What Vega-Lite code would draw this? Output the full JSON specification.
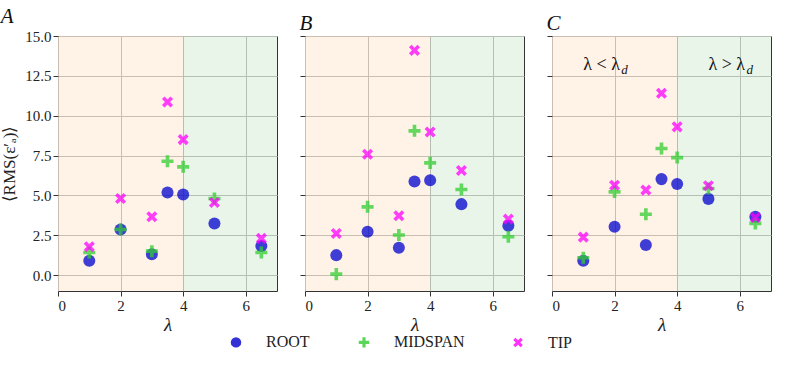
{
  "$schema": "https://vega.github.io/schema/vega-lite/v6.json",
  "padding": {"left": 0, "top": 5, "right": 5, "bottom": 5},
  "background": "white",
  "datasets": {
    "pts": [
      {"panel": "A", "lambda": 1, "location": "ROOT", "rms": 0.90},
      {"panel": "A", "lambda": 2, "location": "ROOT", "rms": 2.86},
      {"panel": "A", "lambda": 3, "location": "ROOT", "rms": 1.30},
      {"panel": "A", "lambda": 3.5, "location": "ROOT", "rms": 5.18},
      {"panel": "A", "lambda": 4, "location": "ROOT", "rms": 5.06},
      {"panel": "A", "lambda": 5, "location": "ROOT", "rms": 3.24},
      {"panel": "A", "lambda": 6.5, "location": "ROOT", "rms": 1.82},
      {"panel": "A", "lambda": 1, "location": "MIDSPAN", "rms": 1.42},
      {"panel": "A", "lambda": 2, "location": "MIDSPAN", "rms": 2.86},
      {"panel": "A", "lambda": 3, "location": "MIDSPAN", "rms": 1.50},
      {"panel": "A", "lambda": 3.5, "location": "MIDSPAN", "rms": 7.14},
      {"panel": "A", "lambda": 4, "location": "MIDSPAN", "rms": 6.79},
      {"panel": "A", "lambda": 5, "location": "MIDSPAN", "rms": 4.80},
      {"panel": "A", "lambda": 6.5, "location": "MIDSPAN", "rms": 1.42},
      {"panel": "A", "lambda": 1, "location": "TIP", "rms": 1.78},
      {"panel": "A", "lambda": 2, "location": "TIP", "rms": 4.80},
      {"panel": "A", "lambda": 3, "location": "TIP", "rms": 3.66},
      {"panel": "A", "lambda": 3.5, "location": "TIP", "rms": 10.86},
      {"panel": "A", "lambda": 4, "location": "TIP", "rms": 8.50},
      {"panel": "A", "lambda": 5, "location": "TIP", "rms": 4.55},
      {"panel": "A", "lambda": 6.5, "location": "TIP", "rms": 2.30},
      {"panel": "B", "lambda": 1, "location": "ROOT", "rms": 1.25},
      {"panel": "B", "lambda": 2, "location": "ROOT", "rms": 2.72},
      {"panel": "B", "lambda": 3, "location": "ROOT", "rms": 1.71},
      {"panel": "B", "lambda": 3.5, "location": "ROOT", "rms": 5.87},
      {"panel": "B", "lambda": 4, "location": "ROOT", "rms": 5.95},
      {"panel": "B", "lambda": 5, "location": "ROOT", "rms": 4.45},
      {"panel": "B", "lambda": 6.5, "location": "ROOT", "rms": 3.09},
      {"panel": "B", "lambda": 1, "location": "MIDSPAN", "rms": 0.06},
      {"panel": "B", "lambda": 2, "location": "MIDSPAN", "rms": 4.28},
      {"panel": "B", "lambda": 3, "location": "MIDSPAN", "rms": 2.51},
      {"panel": "B", "lambda": 3.5, "location": "MIDSPAN", "rms": 9.05},
      {"panel": "B", "lambda": 4, "location": "MIDSPAN", "rms": 7.04},
      {"panel": "B", "lambda": 5, "location": "MIDSPAN", "rms": 5.37},
      {"panel": "B", "lambda": 6.5, "location": "MIDSPAN", "rms": 2.40},
      {"panel": "B", "lambda": 1, "location": "TIP", "rms": 2.61},
      {"panel": "B", "lambda": 2, "location": "TIP", "rms": 7.58},
      {"panel": "B", "lambda": 3, "location": "TIP", "rms": 3.72},
      {"panel": "B", "lambda": 3.5, "location": "TIP", "rms": 14.10},
      {"panel": "B", "lambda": 4, "location": "TIP", "rms": 8.98},
      {"panel": "B", "lambda": 5, "location": "TIP", "rms": 6.56},
      {"panel": "B", "lambda": 6.5, "location": "TIP", "rms": 3.51},
      {"panel": "C", "lambda": 1, "location": "ROOT", "rms": 0.90},
      {"panel": "C", "lambda": 2, "location": "ROOT", "rms": 3.03},
      {"panel": "C", "lambda": 3, "location": "ROOT", "rms": 1.88},
      {"panel": "C", "lambda": 3.5, "location": "ROOT", "rms": 6.02},
      {"panel": "C", "lambda": 4, "location": "ROOT", "rms": 5.72},
      {"panel": "C", "lambda": 5, "location": "ROOT", "rms": 4.78},
      {"panel": "C", "lambda": 6.5, "location": "ROOT", "rms": 3.66},
      {"panel": "C", "lambda": 1, "location": "MIDSPAN", "rms": 1.09},
      {"panel": "C", "lambda": 2, "location": "MIDSPAN", "rms": 5.22},
      {"panel": "C", "lambda": 3, "location": "MIDSPAN", "rms": 3.82},
      {"panel": "C", "lambda": 3.5, "location": "MIDSPAN", "rms": 7.94},
      {"panel": "C", "lambda": 4, "location": "MIDSPAN", "rms": 7.37},
      {"panel": "C", "lambda": 5, "location": "MIDSPAN", "rms": 5.43},
      {"panel": "C", "lambda": 6.5, "location": "MIDSPAN", "rms": 3.24},
      {"panel": "C", "lambda": 1, "location": "TIP", "rms": 2.38},
      {"panel": "C", "lambda": 2, "location": "TIP", "rms": 5.64},
      {"panel": "C", "lambda": 3, "location": "TIP", "rms": 5.33},
      {"panel": "C", "lambda": 3.5, "location": "TIP", "rms": 11.41},
      {"panel": "C", "lambda": 4, "location": "TIP", "rms": 9.30},
      {"panel": "C", "lambda": 5, "location": "TIP", "rms": 5.60},
      {"panel": "C", "lambda": 6.5, "location": "TIP", "rms": 3.61}
    ],
    "bg": [
      {"start": 0, "end": 4, "regime": "below"},
      {"start": 4, "end": 7, "regime": "above"}
    ],
    "notes": [
      {"lambda": 1, "rms": 13.2, "label": "λ < λ", "sub": "d"},
      {"lambda": 5, "rms": 13.2, "label": "λ > λ", "sub": "d"}
    ]
  },
  "config": {
    "font": "Liberation Serif",
    "view": {"stroke": "#333333", "strokeWidth": 1},
    "axis": {
      "labelFont": "Liberation Serif",
      "labelFontSize": 15,
      "labelColor": "#222222",
      "titleFont": "Liberation Serif",
      "titleFontWeight": "normal",
      "titleColor": "#222222",
      "gridColor": "#c4c4c4",
      "gridWidth": 1,
      "tickColor": "#333333",
      "tickSize": 5,
      "domain": false
    },
    "legend": {
      "labelFont": "Liberation Serif",
      "labelFontSize": 16,
      "labelColor": "#222222"
    },
    "title": {"font": "Liberation Serif", "fontStyle": "italic", "fontWeight": "normal", "fontSize": 21, "anchor": "start", "offset": 2, "color": "#111111"}
  },
  "spacing": 28,
  "bounds": "flush",
  "hconcat": [
    {
      "width": 219, "height": 255,
      "title": "A",
      "layer": [
        {
          "data": {"name": "bg"},
          "mark": {"type": "rect", "opacity": 0.1},
          "encoding": {
            "x": {"field": "start", "type": "quantitative", "scale": {"domain": [0, 7], "nice": false}},
            "x2": {"field": "end"},
            "color": {"field": "regime", "type": "nominal", "scale": {"domain": ["below", "above"], "range": ["#ff7f0e", "#2ca02c"]}, "legend": null}
          }
        },
        {
          "data": {"name": "pts"},
          "transform": [{"filter": "datum.panel === 'A'"}],
          "mark": {"type": "point", "filled": true, "opacity": 0.75, "size": 145},
          "encoding": {
            "x": {"field": "lambda", "type": "quantitative", "scale": {"domain": [0, 7], "nice": false}, "axis": {"values": [0, 2, 4, 6], "title": "λ", "titleFontSize": 19, "titleFontStyle": "italic", "titlePadding": 2}},
            "y": {"field": "rms", "type": "quantitative", "scale": {"domain": [-1, 15], "nice": false, "zero": false}, "axis": {"values": [0, 2.5, 5, 7.5, 10, 12.5, 15], "format": ".1f", "title": "⟨RMS(ε′ₐ)⟩", "titleFontSize": 17, "titlePadding": 6}},
            "fill": {"field": "location", "type": "nominal", "scale": {"domain": ["ROOT", "MIDSPAN", "TIP"], "range": ["#0000cd", "#32cd32", "#ff00ff"]}, "legend": {"title": null, "orient": "none", "direction": "horizontal", "legendX": 170, "legendY": 298, "columns": 3, "columnPadding": 45, "labelOffset": 22, "symbolSize": 110, "symbolOpacity": 0.8}},
            "shape": {"field": "location", "type": "nominal", "scale": {"domain": ["ROOT", "MIDSPAN", "TIP"], "range": ["circle", "M-0.3,-1L0.3,-1L0.3,-0.3L1,-0.3L1,0.3L0.3,0.3L0.3,1L-0.3,1L-0.3,0.3L-1,0.3L-1,-0.3L-0.3,-0.3Z", "M0.495,-0.919L0.919,-0.495L0.424,0L0.919,0.495L0.495,0.919L0,0.424L-0.495,0.919L-0.919,0.495L-0.424,0L-0.919,-0.495L-0.495,-0.919L0,-0.424Z"]}, "legend": {"title": null, "orient": "none", "direction": "horizontal", "legendX": 170, "legendY": 298, "columns": 3, "columnPadding": 45, "labelOffset": 22, "symbolSize": 110, "symbolOpacity": 0.8}}
          }
        }
      ]
    },
    {
      "width": 219, "height": 255,
      "title": "B",
      "layer": [
        {
          "data": {"name": "bg"},
          "mark": {"type": "rect", "opacity": 0.1},
          "encoding": {
            "x": {"field": "start", "type": "quantitative", "scale": {"domain": [0, 7], "nice": false}},
            "x2": {"field": "end"},
            "color": {"field": "regime", "type": "nominal", "scale": {"domain": ["below", "above"], "range": ["#ff7f0e", "#2ca02c"]}, "legend": null}
          }
        },
        {
          "data": {"name": "pts"},
          "transform": [{"filter": "datum.panel === 'B'"}],
          "mark": {"type": "point", "filled": true, "opacity": 0.75, "size": 145},
          "encoding": {
            "x": {"field": "lambda", "type": "quantitative", "scale": {"domain": [0, 7], "nice": false}, "axis": {"values": [0, 2, 4, 6], "title": "λ", "titleFontSize": 19, "titleFontStyle": "italic", "titlePadding": 2}},
            "y": {"field": "rms", "type": "quantitative", "scale": {"domain": [-1, 15], "nice": false, "zero": false}, "axis": {"values": [0, 2.5, 5, 7.5, 10, 12.5, 15], "labels": false, "title": null}},
            "fill": {"field": "location", "type": "nominal", "scale": {"domain": ["ROOT", "MIDSPAN", "TIP"], "range": ["#0000cd", "#32cd32", "#ff00ff"]}},
            "shape": {"field": "location", "type": "nominal", "scale": {"domain": ["ROOT", "MIDSPAN", "TIP"], "range": ["circle", "M-0.3,-1L0.3,-1L0.3,-0.3L1,-0.3L1,0.3L0.3,0.3L0.3,1L-0.3,1L-0.3,0.3L-1,0.3L-1,-0.3L-0.3,-0.3Z", "M0.495,-0.919L0.919,-0.495L0.424,0L0.919,0.495L0.495,0.919L0,0.424L-0.495,0.919L-0.919,0.495L-0.424,0L-0.919,-0.495L-0.495,-0.919L0,-0.424Z"]}}
          }
        }
      ]
    },
    {
      "width": 219, "height": 255,
      "title": "C",
      "layer": [
        {
          "data": {"name": "bg"},
          "mark": {"type": "rect", "opacity": 0.1},
          "encoding": {
            "x": {"field": "start", "type": "quantitative", "scale": {"domain": [0, 7], "nice": false}},
            "x2": {"field": "end"},
            "color": {"field": "regime", "type": "nominal", "scale": {"domain": ["below", "above"], "range": ["#ff7f0e", "#2ca02c"]}, "legend": null}
          }
        },
        {
          "data": {"name": "pts"},
          "transform": [{"filter": "datum.panel === 'C'"}],
          "mark": {"type": "point", "filled": true, "opacity": 0.75, "size": 145},
          "encoding": {
            "x": {"field": "lambda", "type": "quantitative", "scale": {"domain": [0, 7], "nice": false}, "axis": {"values": [0, 2, 4, 6], "title": "λ", "titleFontSize": 19, "titleFontStyle": "italic", "titlePadding": 2}},
            "y": {"field": "rms", "type": "quantitative", "scale": {"domain": [-1, 15], "nice": false, "zero": false}, "axis": {"values": [0, 2.5, 5, 7.5, 10, 12.5, 15], "labels": false, "title": null}},
            "fill": {"field": "location", "type": "nominal", "scale": {"domain": ["ROOT", "MIDSPAN", "TIP"], "range": ["#0000cd", "#32cd32", "#ff00ff"]}},
            "shape": {"field": "location", "type": "nominal", "scale": {"domain": ["ROOT", "MIDSPAN", "TIP"], "range": ["circle", "M-0.3,-1L0.3,-1L0.3,-0.3L1,-0.3L1,0.3L0.3,0.3L0.3,1L-0.3,1L-0.3,0.3L-1,0.3L-1,-0.3L-0.3,-0.3Z", "M0.495,-0.919L0.919,-0.495L0.424,0L0.919,0.495L0.495,0.919L0,0.424L-0.495,0.919L-0.919,0.495L-0.424,0L-0.919,-0.495L-0.495,-0.919L0,-0.424Z"]}}
          }
        },
        {
          "data": {"name": "notes"},
          "mark": {"type": "text", "align": "left", "baseline": "middle", "fontSize": 18, "font": "Liberation Serif", "color": "#111111"},
          "encoding": {
            "x": {"field": "lambda", "type": "quantitative"},
            "y": {"field": "rms", "type": "quantitative"},
            "text": {"field": "label"}
          }
        },
        {
          "data": {"name": "notes"},
          "mark": {"type": "text", "align": "left", "baseline": "middle", "fontSize": 13, "font": "Liberation Serif", "fontStyle": "italic", "color": "#111111", "dx": 38, "dy": 5},
          "encoding": {
            "x": {"field": "lambda", "type": "quantitative"},
            "y": {"field": "rms", "type": "quantitative"},
            "text": {"field": "sub"}
          }
        }
      ]
    }
  ],
  "resolve": {"scale": {"color": "independent"}}
}
